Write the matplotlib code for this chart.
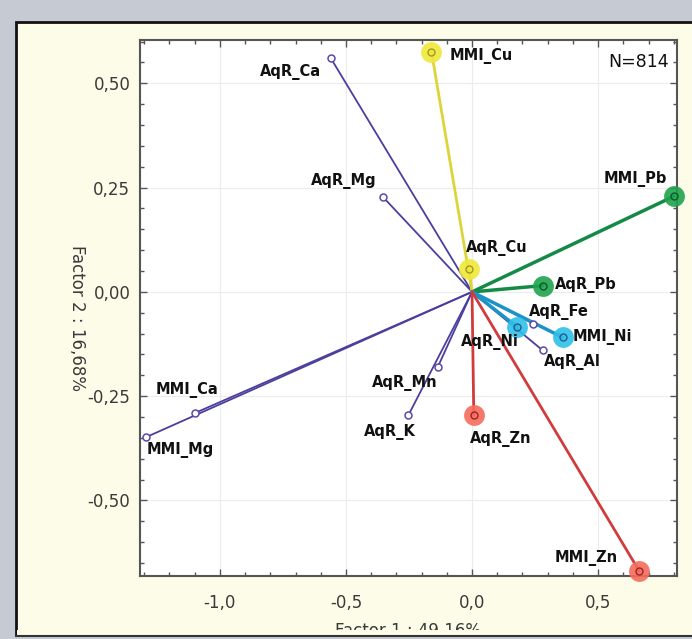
import matplotlib
matplotlib.use("Agg")
import matplotlib.pyplot as plt
from matplotlib.patches import Rectangle
from matplotlib.ticker import MultipleLocator, FuncFormatter

# ---------------- data ----------------
variables = ["MMI_Cu", "AqR_Ca", "AqR_Mg", "MMI_Pb", "AqR_Cu", "AqR_Pb",
             "AqR_Fe", "AqR_Ni", "MMI_Ni", "AqR_Al", "AqR_Mn", "MMI_Ca",
             "MMI_Mg", "AqR_K", "AqR_Zn", "MMI_Zn"]
factor1 = [-0.161, -0.560, -0.354, 0.800, -0.011, 0.280,
           0.242, 0.179, 0.359, 0.280, -0.135, -1.098,
           -1.292, -0.252, 0.007, 0.664]
factor2 = [0.576, 0.560, 0.228, 0.229, 0.054, 0.015,
           -0.076, -0.084, -0.109, -0.140, -0.179, -0.290,
           -0.348, -0.295, -0.296, -0.670]
highlighted = ["MMI_Cu", "AqR_Cu", "MMI_Pb", "AqR_Pb", "AqR_Ni", "MMI_Ni",
               "AqR_Zn", "MMI_Zn"]
x_ticks = [-1.0, -0.5, 0.0, 0.5]
y_ticks = [-0.50, -0.25, 0.00, 0.25, 0.50]
x_title = "Factor 1 : 49,16%"
y_title = "Factor 2 : 16,68%"
n_text = "N=814"

# ---------------- styles ----------------
W, H = 692, 639
fig = plt.figure(figsize=(W / 100, H / 100), dpi=100)
fig.patch.set_facecolor("#c6cad2")

cream = "#fdfce8"
# panel
fig.patches.append(Rectangle((16 / W, 1 - 637 / H), (W + 10 - 16) / W, (637 - 22) / H,
                             transform=fig.transFigure, facecolor=cream,
                             edgecolor="#111111", linewidth=2, zorder=-5))

ax = fig.add_axes([140 / W, 1 - 576 / H, (677 - 140) / W, (576 - 39.5) / H])
ax.set_facecolor("white")
ax.set_xlim(-1.317, 0.813)
ax.set_ylim(-0.681, 0.605)

purple_line = "#4b3f9e"
purple_mark = "#5a4aa8"
elem_style = {
    "Cu": dict(line="#ddd43a", halo="#f0e83a", inner="#a09a20", lw=2.0),
    "Pb": dict(line="#148a46", halo="#1fa34c", inner="#0b5a2c", lw=2.5),
    "Ni": dict(line="#1c93c8", halo="#2fbfe8", inner="#1a5f90", lw=2.5),
    "Zn": dict(line="#d23b3b", halo="#f46c5c", inner="#a02222", lw=2.0),
}

label_layout = {
    "MMI_Cu": ("left", 18, -4),
    "AqR_Ca": ("right", -10, -14),
    "AqR_Mg": ("right", -6, 16),
    "MMI_Pb": ("right", -7, 17),
    "AqR_Cu": ("left", -3, 21),
    "AqR_Pb": ("left", 12, 1),
    "AqR_Fe": ("left", -4, 12),
    "AqR_Ni": ("center", -27, -15),
    "MMI_Ni": ("left", 10, 0),
    "AqR_Al": ("left", 1, -12),
    "AqR_Mn": ("center", -33, -16),
    "MMI_Ca": ("center", -8, 23),
    "MMI_Mg": ("left", 0, -13),
    "AqR_K": ("center", -19, -17),
    "AqR_Zn": ("center", 27, -24),
    "MMI_Zn": ("right", -22, 13),
}

# grid
ax.grid(True, which="major", color="#ececec", linewidth=0.8, zorder=0)
ax.set_axisbelow(True)

# lines: purple first, then coloured
for name, x, y in zip(variables, factor1, factor2):
    if name not in highlighted:
        ax.plot([0, x], [0, y], color=purple_line, lw=1.3, zorder=2,
                solid_capstyle="round")
for name, x, y in zip(variables, factor1, factor2):
    if name in highlighted:
        st = elem_style[name.split("_")[1]]
        ax.plot([0, x], [0, y], color=st["line"], lw=st["lw"], zorder=3,
                solid_capstyle="round")

# markers
for name, x, y in zip(variables, factor1, factor2):
    if name in highlighted:
        st = elem_style[name.split("_")[1]]
        ax.plot(x, y, "o", ms=15, color=st["halo"], mec="none", alpha=0.9,
                zorder=4, clip_on=False)
        ax.plot(x, y, "o", ms=5, mfc="none", mec=st["inner"], mew=1.0,
                zorder=5, clip_on=False)
    else:
        ax.plot(x, y, "o", ms=5, mfc="white", mec=purple_mark, mew=1.1,
                zorder=5, clip_on=False)

# labels
for name, x, y in zip(variables, factor1, factor2):
    ha, dx, dy = label_layout[name]
    ax.annotate(name, (x, y), xytext=(dx, dy), textcoords="offset pixels",
                ha=ha, va="center", fontsize=10.5, fontweight="bold",
                family="DejaVu Sans", color="#111111", zorder=6)

ax.text(0.985, 0.975, n_text, transform=ax.transAxes, ha="right", va="top",
        fontsize=12.5, color="#111111", family="DejaVu Sans")

# ticks
ax.xaxis.set_major_locator(MultipleLocator(0.5))
ax.xaxis.set_minor_locator(MultipleLocator(0.1))
ax.yaxis.set_major_locator(MultipleLocator(0.25))
ax.yaxis.set_minor_locator(MultipleLocator(0.05))
ax.set_xticks(x_ticks)
ax.set_yticks(y_ticks)
ax.xaxis.set_major_formatter(FuncFormatter(lambda v, p: f"{v:.1f}".replace(".", ",").replace("-0,0", "0,0")))
ax.yaxis.set_major_formatter(FuncFormatter(lambda v, p: f"{v:.2f}".replace(".", ",").replace("-0,00", "0,00")))
ax.tick_params(which="both", direction="in", top=True, right=True,
               color="#555555", width=1.0)
ax.tick_params(which="major", length=5)
ax.tick_params(which="minor", length=3)
ax.tick_params(axis="x", which="major", pad=13, labelsize=12, labelcolor="#3a3a3a")
ax.tick_params(axis="y", which="major", pad=7, labelsize=12, labelcolor="#3a3a3a")
for sp in ax.spines.values():
    sp.set_color("#555555")
    sp.set_linewidth(1.5)

# axis titles
fig.text(408 / W, 1 - 622 / H, x_title, ha="center", va="top", fontsize=12,
         color="#3a3a3a", family="DejaVu Sans")
fig.text(77 / W, 1 - 318 / H, y_title, ha="center", va="center", fontsize=12,
         rotation=-90, color="#3a3a3a", family="DejaVu Sans")

# crop of the bottom title, as in the reference panel
fig.patches.append(Rectangle((17 / W, 1 - 636 / H), (W - 17) / W, 6 / H,
                             transform=fig.transFigure, facecolor=cream,
                             edgecolor="none", zorder=20))
fig.patches.append(Rectangle((0, 0), 1, 1 - 636.5 / H,
                             transform=fig.transFigure, facecolor="#c6cad2",
                             edgecolor="none", zorder=21))
fig.lines.append(plt.Line2D([16 / W, 1], [1 - 636 / H, 1 - 636 / H],
                            transform=fig.transFigure, color="#333333", lw=1.5,
                            zorder=22))

fig.savefig("out.png", dpi=100, facecolor=fig.get_facecolor())
